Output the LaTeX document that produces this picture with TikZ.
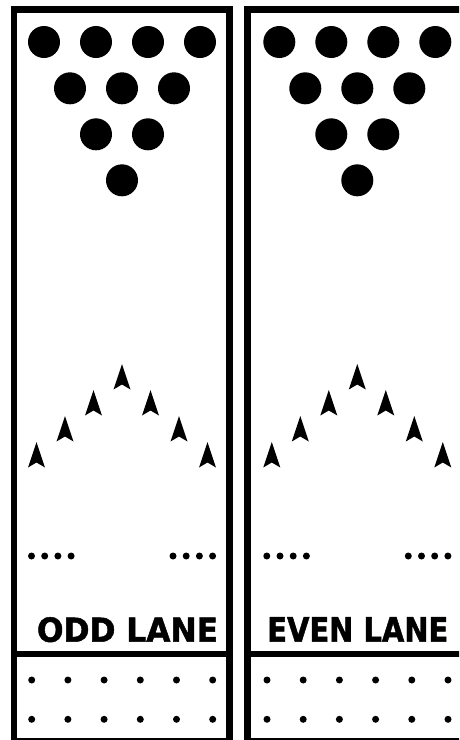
\documentclass[tikz,border=0pt]{standalone}
\usepackage{graphicx}
\usepackage{fontspec}
\newfontfamily\lanefont{DejaVu Sans}[BoldFeatures={FakeBold=1.5}]
\tikzset{
  lane/.style={line width=6.5pt},
  pin/.style={fill=black},
  lanelabel/.style={font=\lanefont\bfseries,inner sep=0pt,anchor=base}
}

\begin{document}
\begin{tikzpicture}[x=1pt,y=-1pt]
\useasboundingbox (0,0) rectangle (459,740);
\fill[white] (0,0) rectangle (459,740);
\clip (0,0) rectangle (459,740);
% lane frames
\draw[lane] (14,9.5) rectangle (229.5,741);
\draw[lane] (14,654) -- (229.5,654);
\draw[lane] (247.5,9.5) rectangle (470,741);
\draw[lane] (247.5,654) -- (470,654);
% pins, arrows and dots of each lane
\foreach \cx/\lx/\name/\txt in {122/127.5/odd/ODD LANE,357.3/357.8/even/EVEN LANE}{
  \foreach \dx in {-78,-26,26,78} \fill[pin] (\cx+\dx,42) circle (16);
  \foreach \dx in {-52,0,52} \fill[pin] (\cx+\dx,88.3) circle (16);
  \foreach \dx in {-26,26} \fill[pin] (\cx+\dx,134.3) circle (16);
  \fill[pin] (\cx,180.3) circle (16);
  \foreach \i in {-3,...,3}
    \fill[pin] ({\cx+28.5*\i},{364+26*abs(\i)}) -- ++(-8.5,25.5) -- ++(8.5,-5) -- ++(8.5,5) -- cycle;
  \foreach \k in {0,...,3}{
    \fill[pin] ({\cx-90.5+13.2*\k},556) circle (3.5);
    \fill[pin] ({\cx+51+13.2*\k},556) circle (3.5);
  }
  \node[lanelabel] (\name label) at (\lx,641.7) {\resizebox{181pt}{24.5pt}{\txt}};
  \foreach \k in {0,...,5}{
    \fill[pin] ({\cx-90.3+36.2*\k},680) circle (3.5);
    \fill[pin] ({\cx-90.3+36.2*\k},719.3) circle (3.5);
  }
}
\end{tikzpicture}
\end{document}
